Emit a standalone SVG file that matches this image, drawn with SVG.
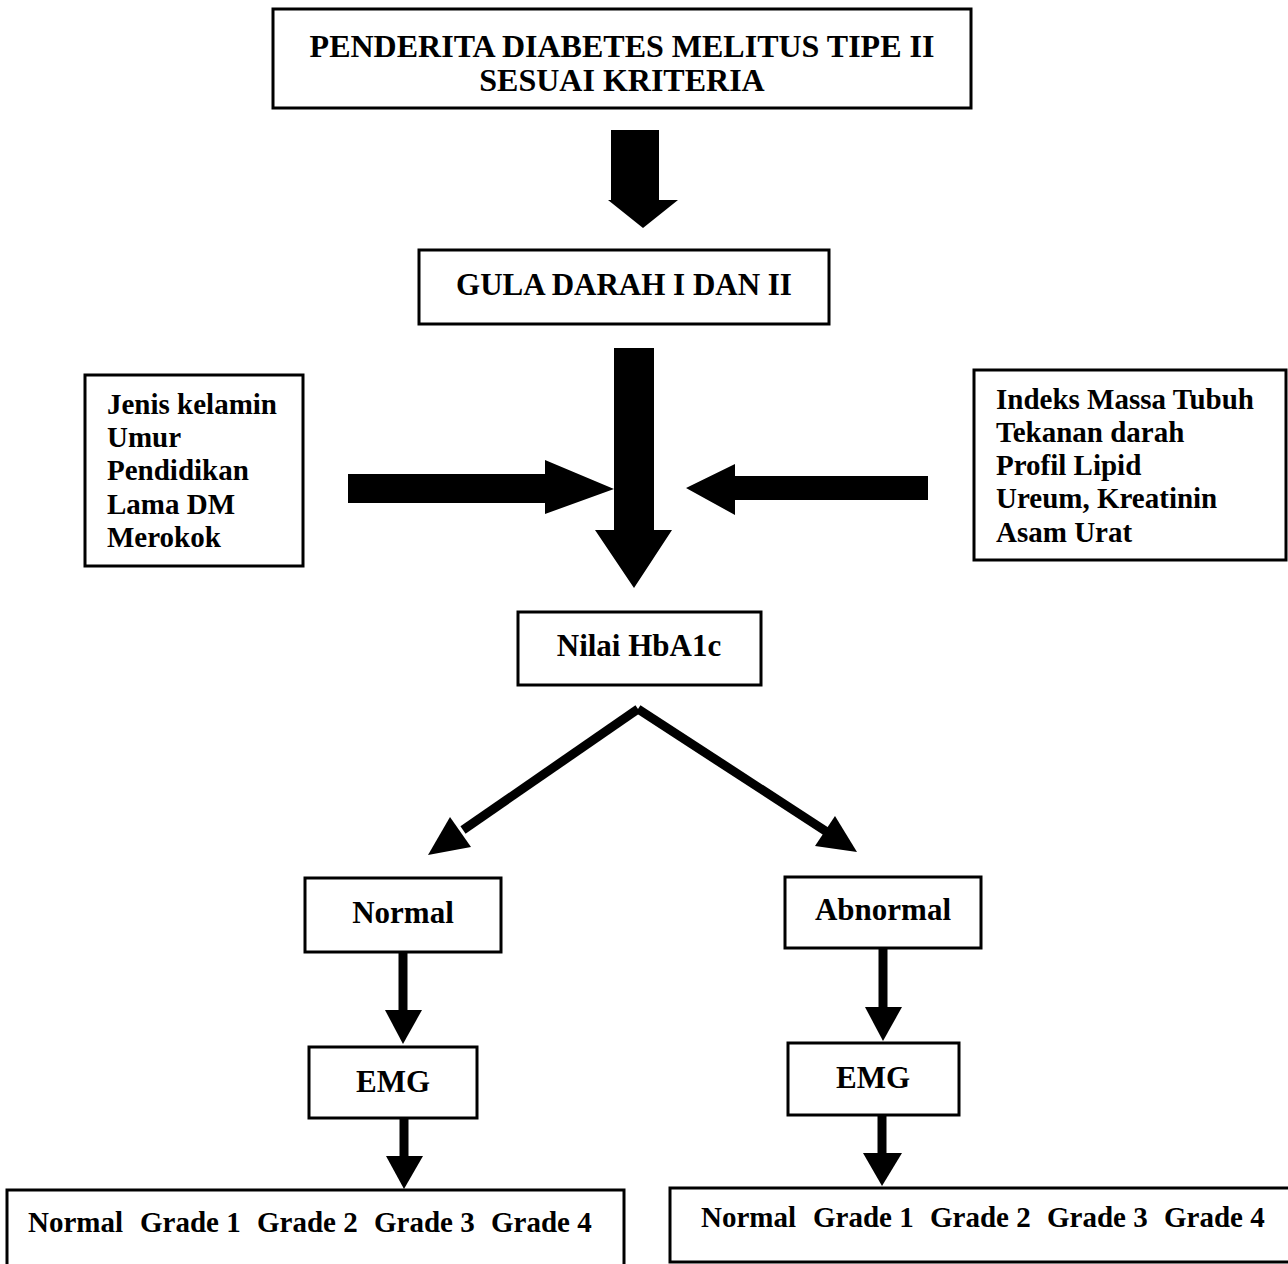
<svg xmlns="http://www.w3.org/2000/svg" width="1288" height="1264" viewBox="0 0 1288 1264">
<style>
.box{fill:#fff;stroke:#000;stroke-width:3}
.t{font-family:"Liberation Serif","Times New Roman",serif;font-weight:bold;fill:#000}
.lbl{font-size:31px;text-anchor:middle}
.ttl{font-size:32px}
.lst{font-size:29px}
.gr{font-size:29px}
.ar{fill:#000}
.ln{stroke:#000;stroke-width:9;fill:none}
</style>
<rect width="1288" height="1264" fill="#fff"/>
<g id="connectors">
<polygon class="ar" points="611,130 659,130 659,200 678,200 643,228 608,200 611,200"/>
<polygon class="ar" points="614,348 654,348 654,530 672,530 634,588 595,530 614,530"/>
<polygon class="ar" points="348,474 545,474 545,460 614,489 545,514 545,503 348,503"/>
<polygon class="ar" points="928,476 735,476 735,464 686,488 735,515 735,500 928,500"/>
<line class="ln" x1="638" y1="709" x2="463" y2="830"/>
<polygon class="ar" points="428,855 450,817 471,847"/>
<line class="ln" x1="638" y1="709" x2="827" y2="832"/>
<polygon class="ar" points="857,852 815,846 835,816"/>
<line class="ln" x1="403" y1="952" x2="403" y2="1012"/>
<polygon class="ar" points="385,1010 422,1010 403,1044"/>
<line class="ln" x1="404" y1="1118" x2="404" y2="1160"/>
<polygon class="ar" points="386,1156 423,1156 404,1189"/>
<line class="ln" x1="883" y1="948" x2="883" y2="1010"/>
<polygon class="ar" points="865,1007 902,1007 883,1041"/>
<line class="ln" x1="882" y1="1115" x2="882" y2="1157"/>
<polygon class="ar" points="863,1153 902,1153 882,1186"/>
</g>
<g id="n_penderita">
<rect class="box" x="273" y="9" width="698" height="99"/>
<text class="t lbl ttl" x="622" y="57">PENDERITA DIABETES MELITUS TIPE II</text>
<text class="t lbl ttl" x="622" y="91">SESUAI KRITERIA</text>
</g>
<g id="n_gula">
<rect class="box" x="419" y="250" width="410" height="74"/>
<text class="t lbl" x="624" y="295">GULA DARAH I DAN II</text>
</g>
<g id="n_kiri">
<rect class="box" x="85" y="375" width="218" height="191"/>
<text class="t lst" x="107" y="414">Jenis kelamin</text>
<text class="t lst" x="107" y="447">Umur</text>
<text class="t lst" x="107" y="480">Pendidikan</text>
<text class="t lst" x="107" y="514">Lama DM</text>
<text class="t lst" x="107" y="547">Merokok</text>
</g>
<g id="n_kanan">
<rect class="box" x="974" y="370" width="312" height="190"/>
<text class="t lst" x="996" y="409">Indeks Massa Tubuh</text>
<text class="t lst" x="996" y="442">Tekanan darah</text>
<text class="t lst" x="996" y="475">Profil Lipid</text>
<text class="t lst" x="996" y="508">Ureum, Kreatinin</text>
<text class="t lst" x="996" y="542">Asam Urat</text>
</g>
<g id="n_hba1c">
<rect class="box" x="518" y="612" width="243" height="73"/>
<text class="t lbl" x="639" y="656">Nilai HbA1c</text>
</g>
<g id="n_normal">
<rect class="box" x="305" y="878" width="196" height="74"/>
<text class="t lbl" x="403" y="923">Normal</text>
</g>
<g id="n_abnormal">
<rect class="box" x="785" y="877" width="196" height="71"/>
<text class="t lbl" x="883" y="920">Abnormal</text>
</g>
<g id="n_emg1">
<rect class="box" x="309" y="1047" width="168" height="71"/>
<text class="t lbl" x="393" y="1092">EMG</text>
</g>
<g id="n_emg2">
<rect class="box" x="788" y="1043" width="171" height="72"/>
<text class="t lbl" x="873" y="1088">EMG</text>
</g>
<g id="n_grade1">
<rect class="box" x="7" y="1190" width="617" height="76"/>
<text class="t gr" y="1232"><tspan x="28">Normal</tspan><tspan x="140">Grade 1</tspan><tspan x="257">Grade 2</tspan><tspan x="374">Grade 3</tspan><tspan x="491">Grade 4</tspan></text>
</g>
<g id="n_grade2">
<rect class="box" x="670" y="1188" width="620" height="74"/>
<text class="t gr" y="1227"><tspan x="701">Normal</tspan><tspan x="813">Grade 1</tspan><tspan x="930">Grade 2</tspan><tspan x="1047">Grade 3</tspan><tspan x="1164">Grade 4</tspan></text>
</g>
</svg>
